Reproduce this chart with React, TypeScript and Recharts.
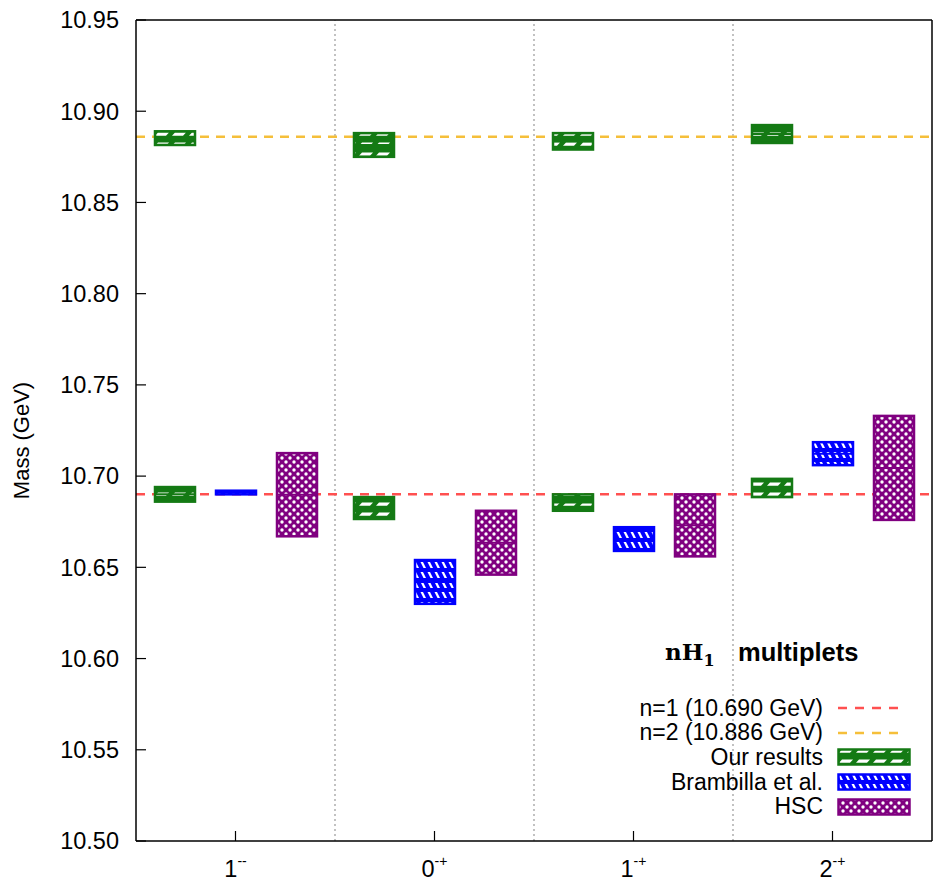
import { ComposedChart, Bar, XAxis, YAxis, ReferenceLine, Legend } from 'recharts';

// quantum numbers J^{PC}
const states = ['1--', '0-+', '1-+', '2-+'];
const stateJ = ['1', '0', '1', '2'];
const statePC = ['--', '-+', '-+', '-+'];

// mass ranges [low, high] in GeV
const oursN1 = [[10.686, 10.694], [10.6765, 10.6885], [10.681, 10.690], [10.6885, 10.6985]];
const oursN2 = [[10.8815, 10.889], [10.875, 10.888], [10.879, 10.888], [10.8826, 10.8924]];
const brambilla = [[10.690, 10.692], [10.630, 10.654], [10.659, 10.672], [10.706, 10.7186]];
const hsc = [[10.667, 10.7126], [10.646, 10.681], [10.656, 10.690], [10.676, 10.733]];

const n1Mass = 10.690;
const n2Mass = 10.886;
const massTicks = [10.5, 10.55, 10.6, 10.65, 10.7, 10.75, 10.8, 10.85, 10.9, 10.95];

const GREEN = '#147a14';
const BLUE = '#0000ff';
const PURPLE = '#800080';
const RED = '#ff5050';
const GOLD = '#f5bf3a';

const legendLines = [
  { label: 'n=1 (10.690 GeV)', color: RED },
  { label: 'n=2 (10.886 GeV)', color: GOLD },
];
const legendBoxes = [
  { label: 'Our results', color: GREEN, pat: 'url(#patGreen)' },
  { label: 'Brambilla et al.', color: BLUE, pat: 'url(#patBlue)' },
  { label: 'HSC', color: PURPLE, pat: 'url(#patPurple)' },
];

const rows = states.map((s, i) => ({
  state: s,
  n1: oursN1[i],
  n2: oursN2[i],
  bram: brambilla[i],
  hsc: hsc[i],
}));

// box with hatch fill and a line at the central value
const Box = (props: any) => {
  const { x, y, width, height, color, pat } = props;
  if (![x, y, width, height].every(Number.isFinite)) return <g />;
  const top = Math.min(y, y + height);
  const h = Math.abs(height);
  return (
    <g>
      <rect x={x} y={top} width={width} height={h} fill={pat} stroke={color} strokeWidth={2.5} />
      <line x1={x} x2={x + width} y1={top + h / 2} y2={top + h / 2} stroke={color} strokeWidth={2} />
    </g>
  );
};

const StateTick = (props: any) => {
  const { x, y, index } = props;
  return (
    <text x={x} y={y + 17} textAnchor="middle" fontSize={23.5} fill="#000">
      {stateJ[index]}
      <tspan dy={-11} fontSize={14}>{statePC[index]}</tspan>
    </text>
  );
};

const MassLabel = (props: any) => {
  const { viewBox } = props;
  const cx = viewBox.x + 21;
  const cy = viewBox.y + viewBox.height / 2 + 10;
  return (
    <text x={cx} y={cy} transform={`rotate(-90, ${cx}, ${cy})`} textAnchor="middle" dominantBaseline="central" fontSize={22} fill="#000">
      Mass (GeV)
    </text>
  );
};

const renderLegend = () => (
  <div style={{ position: 'relative', width: 330, height: 190, fontSize: 23, color: '#000', lineHeight: 1 }}>
    <div style={{ position: 'absolute', left: 65, top: 8, fontFamily: '"DejaVu Serif", serif', fontWeight: 'bold', fontSize: 23 }}>
      nH<sub style={{ fontSize: 16 }}>1</sub>
    </div>
    <div style={{ position: 'absolute', left: 138, top: 8, fontWeight: 'bold', fontSize: 25.5 }}>multiplets</div>
    <div style={{ position: 'absolute', left: 0, top: 64 }}>
      {legendLines.map((r) => (
        <div key={r.label} style={{ display: 'flex', alignItems: 'center', height: 24.6 }}>
          <span style={{ width: 223, textAlign: 'right', whiteSpace: 'nowrap' }}>{r.label}</span>
          <svg width={80} height={20} style={{ marginLeft: 14 }}>
            <line x1={1} x2={63} y1={10} y2={10} stroke={r.color} strokeWidth={2.5} strokeDasharray="9 8" />
          </svg>
        </div>
      ))}
      {legendBoxes.map((r) => (
        <div key={r.label} style={{ display: 'flex', alignItems: 'center', height: 24.6 }}>
          <span style={{ width: 223, textAlign: 'right', whiteSpace: 'nowrap' }}>{r.label}</span>
          <svg width={80} height={20} style={{ marginLeft: 14 }}>
            <rect x={1.5} y={2.5} width={71} height={15} fill={r.pat} stroke={r.color} strokeWidth={2.5} />
          </svg>
        </div>
      ))}
    </div>
  </div>
);

export default function App() {
  return (
    <div style={{ position: 'absolute', left: 0, top: 0, width: 938, height: 882, background: '#fff', fontFamily: '"Liberation Sans", Arial, sans-serif' }}>
      <svg width={0} height={0} style={{ position: 'absolute' }}>
        <defs>
          <pattern id="patGreen" patternUnits="userSpaceOnUse" width={17} height={10}>
            <rect width={17} height={10} fill={GREEN} />
            <polygon points="5,2.5 16,2.5 13,5.8 2,5.8" fill="#fff" />
          </pattern>
          <pattern id="patBlue" patternUnits="userSpaceOnUse" width={7} height={10}>
            <rect width={7} height={10} fill={BLUE} />
            <polygon points="0.5,2 3,2 6,8 3.5,8" fill="#fff" />
          </pattern>
          <pattern id="patPurple" patternUnits="userSpaceOnUse" width={8} height={8}>
            <rect width={8} height={8} fill={PURPLE} />
            <circle cx={2} cy={2} r={1.7} fill="#fff" />
            <circle cx={6} cy={6} r={1.7} fill="#fff" />
          </pattern>
        </defs>
      </svg>
      <ComposedChart
        width={938}
        height={882}
        data={rows}
        margin={{ top: 19, right: 5, bottom: 0, left: 0 }}
        barSize={40}
        barGap={21}
      >
        <XAxis
          xAxisId="main"
          dataKey="state"
          height={41}
          axisLine={{ stroke: '#000', strokeWidth: 1.5 }}
          tickLine={{ stroke: '#000', strokeWidth: 1.2 }}
          tickSize={-10}
          tickMargin={29}
          tick={<StateTick />}
          interval={0}
        />
        <XAxis
          xAxisId="top"
          dataKey="state"
          orientation="top"
          height={1}
          axisLine={{ stroke: '#000', strokeWidth: 1.5 }}
          tickLine={{ stroke: '#000', strokeWidth: 1.2 }}
          tickSize={-10}
          tick={false}
          interval={0}
        />
        <YAxis
          yAxisId="left"
          width={136}
          domain={[10.5, 10.95]}
          ticks={massTicks}
          interval={0}
          tickFormatter={(v: number) => v.toFixed(2)}
          tick={{ fontSize: 23.5, fill: '#000' }}
          axisLine={{ stroke: '#000', strokeWidth: 1.5 }}
          tickLine={{ stroke: '#000', strokeWidth: 1.2 }}
          tickSize={-10}
          tickMargin={27}
          label={<MassLabel />}
        />
        <YAxis
          yAxisId="right"
          orientation="right"
          width={1}
          domain={[10.5, 10.95]}
          ticks={massTicks}
          interval={0}
          tick={false}
          axisLine={{ stroke: '#000', strokeWidth: 1.5 }}
          tickLine={{ stroke: '#000', strokeWidth: 1.2 }}
          tickSize={-10}
        />

        {/* dotted separators between J^PC groups */}
        {states.slice(0, -1).map((s) => (
          <ReferenceLine key={s} x={s} position="end" xAxisId="main" yAxisId="left" stroke="#999" strokeWidth={1.2} strokeDasharray="2 3" zIndex={100} />
        ))}
        <ReferenceLine y={n1Mass} xAxisId="main" yAxisId="left" stroke={RED} strokeWidth={2.5} strokeDasharray="9 7" zIndex={200} />
        <ReferenceLine y={n2Mass} xAxisId="main" yAxisId="left" stroke={GOLD} strokeWidth={2.5} strokeDasharray="9 7" zIndex={200} />

        <Bar xAxisId="main" yAxisId="left" dataKey="n1" isAnimationActive={false}
          shape={(p: any) => <Box {...p} color={GREEN} pat="url(#patGreen)" />} />
        <Bar xAxisId="main" yAxisId="left" dataKey="bram" isAnimationActive={false}
          shape={(p: any) => <Box {...p} color={BLUE} pat="url(#patBlue)" />} />
        <Bar xAxisId="main" yAxisId="left" dataKey="hsc" isAnimationActive={false}
          shape={(p: any) => <Box {...p} color={PURPLE} pat="url(#patPurple)" />} />

        {/* n=2 green boxes share the slot layout of the first group */}
        <Bar xAxisId="top" yAxisId="left" dataKey="n2" isAnimationActive={false}
          shape={(p: any) => <Box {...p} color={GREEN} pat="url(#patGreen)" />} />
        <Bar xAxisId="top" yAxisId="left" dataKey="n2" isAnimationActive={false} shape={() => <g />} />
        <Bar xAxisId="top" yAxisId="left" dataKey="n2" isAnimationActive={false} shape={() => <g />} />

        <Legend
          content={renderLegend}
          layout="horizontal"
          verticalAlign="middle"
          align="center"
          wrapperStyle={{ left: 600, top: 632, width: 330 }}
        />
      </ComposedChart>
    </div>
  );
}
